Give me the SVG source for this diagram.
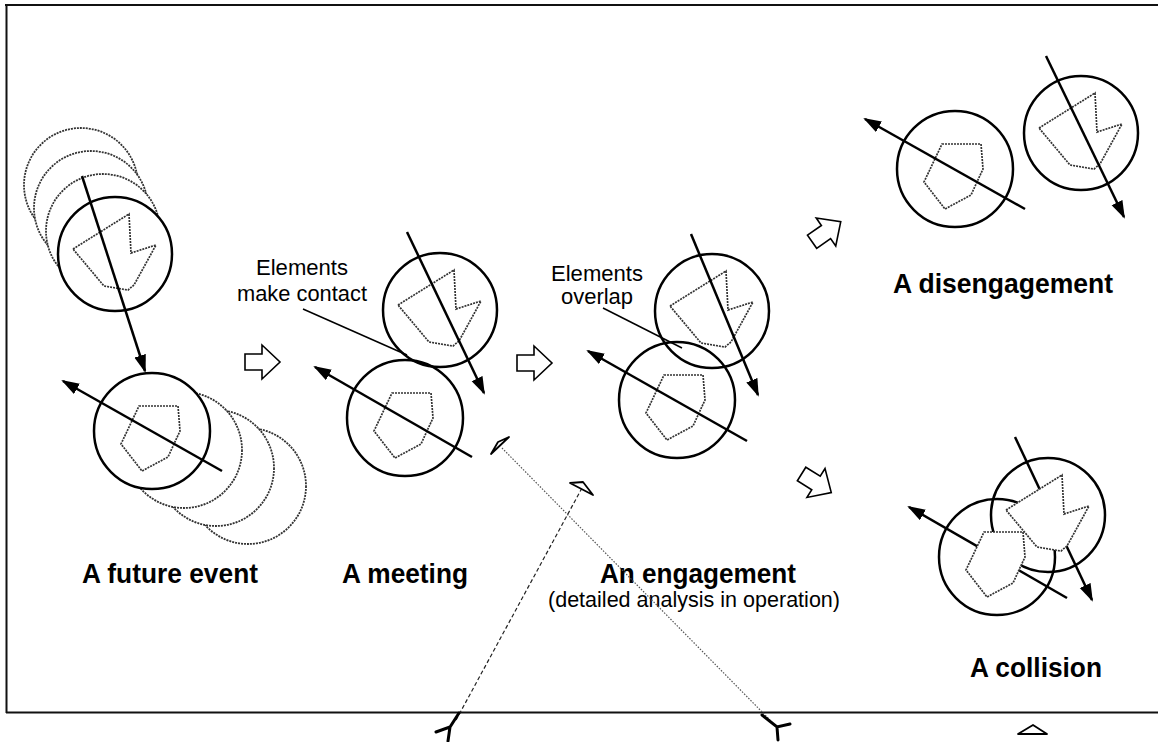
<svg xmlns="http://www.w3.org/2000/svg" xmlns:xlink="http://www.w3.org/1999/xlink" width="1158" height="742" viewBox="0 0 1158 742">
<style>
.frame{stroke:#111;stroke-width:2;fill:none}
.solid{fill:none;stroke:#000;stroke-width:2.5}
.solidw{fill:#fff;stroke:#000;stroke-width:2.5}
.ghost{fill:#fff;stroke:#333;stroke-width:1.8;stroke-dasharray:2 1}
.shape{fill:none;stroke:#333;stroke-width:1.7;stroke-dasharray:2 1}
.shapew{fill:#fff;stroke:#333;stroke-width:1.7;stroke-dasharray:2 1}
.arr{fill:none;stroke:#000;stroke-width:2.5;marker-end:url(#ah)}
.lead{fill:none;stroke:#000;stroke-width:1.5}
.blk{fill:#fff;stroke:#000;stroke-width:1.6}
.title{font-family:"Liberation Sans",Arial,sans-serif;font-weight:bold;font-size:27px;text-anchor:middle;fill:#000}
.lbl{font-family:"Liberation Sans",Arial,sans-serif;font-size:22px;text-anchor:middle;fill:#000}
.dotl{fill:none;stroke:#555;stroke-width:1.2;stroke-dasharray:1.5 1.5}
.dashl{fill:none;stroke:#222;stroke-width:1.2;stroke-dasharray:4 2.5}
.tri{fill:#fff;stroke:#000;stroke-width:1.8;stroke-linejoin:round}
.ymk{fill:none;stroke:#000;stroke-width:3;stroke-linecap:round}
</style>
<defs>
<marker id="ah" markerUnits="userSpaceOnUse" markerWidth="20" markerHeight="14" refX="16" refY="6" orient="auto">
<path d="M0,0 L18,6 L0,12 Z" fill="#000"/>
</marker>
<path id="ship" d="M-42,-5 L14,-40 L16,-1 L41,-9 L19,31 L13,36 L-11,32 Z"/>
<path id="pent" d="M-13,-25 L26,-25 L28,0 L16,26 L-10,40 L-31,13 Z"/>
<path id="block" d="M-17,-8 H0 V-17 L18,0 L0,17 V8 H-17 Z"/>
</defs>
<rect width="1158" height="742" fill="#fff"/>
<g id="frame">
<line class="frame" x1="5" y1="5" x2="1158" y2="5"/>
<line class="frame" x1="6.5" y1="5" x2="6.5" y2="713"/>
<line class="frame" x1="6" y1="712.5" x2="1158" y2="712.5"/>
</g>
<g id="future-event">
<g id="future-top">
<circle class="ghost" cx="81" cy="185" r="57"/>
<circle class="ghost" cx="91" cy="208" r="57"/>
<circle class="ghost" cx="103" cy="231" r="57"/>
<circle class="solidw" cx="115" cy="254" r="57"/>
<use href="#ship" class="shape" transform="translate(115,254)"/>
<line class="arr" x1="82" y1="176" x2="145" y2="371"/>
</g>
<g id="future-bottom">
<circle class="ghost" cx="248" cy="486" r="58"/>
<circle class="ghost" cx="216" cy="468" r="58"/>
<circle class="ghost" cx="184" cy="450" r="58"/>
<circle class="solidw" cx="152" cy="431" r="58"/>
<use href="#pent" class="shape" transform="translate(152,431)"/>
<line class="arr" x1="222" y1="471" x2="63" y2="381"/>
</g>
<text class="title" x="170" y="583" textLength="176" lengthAdjust="spacingAndGlyphs">A future event</text>
</g>
<g id="meeting">
<circle class="solid" cx="440" cy="310" r="57"/>
<use href="#ship" class="shape" transform="translate(440,310)"/>
<circle class="solid" cx="405" cy="418" r="58"/>
<use href="#pent" class="shape" transform="translate(405,418)"/>
<line class="arr" x1="407" y1="232" x2="484" y2="393"/>
<line class="arr" x1="472" y1="457" x2="315" y2="367"/>
<text class="lbl" x="302" y="275" textLength="92" lengthAdjust="spacingAndGlyphs">Elements</text>
<text class="lbl" x="302" y="301" textLength="130" lengthAdjust="spacingAndGlyphs">make contact</text>
<line class="lead" x1="303" y1="309" x2="407" y2="355"/>
<text class="title" x="405" y="583" textLength="126" lengthAdjust="spacingAndGlyphs">A meeting</text>
</g>
<g id="engagement">
<circle class="solid" cx="712" cy="311" r="57"/>
<use href="#ship" class="shape" transform="translate(712,311)"/>
<circle class="solid" cx="677" cy="400" r="58"/>
<use href="#pent" class="shape" transform="translate(677,400)"/>
<line class="arr" x1="691" y1="234" x2="758" y2="395"/>
<line class="arr" x1="747" y1="441" x2="588" y2="351"/>
<text class="lbl" x="597" y="281" textLength="92" lengthAdjust="spacingAndGlyphs">Elements</text>
<text class="lbl" x="597" y="304">overlap</text>
<line class="lead" x1="603" y1="308" x2="682" y2="348"/>
<text class="title" x="698" y="583" textLength="196" lengthAdjust="spacingAndGlyphs">An engagement</text>
<text class="lbl" x="694" y="607" textLength="292" lengthAdjust="spacingAndGlyphs">(detailed analysis in operation)</text>
</g>
<g id="disengagement">
<circle class="solid" cx="955" cy="169" r="58"/>
<use href="#pent" class="shape" transform="translate(955,169)"/>
<circle class="solid" cx="1081" cy="133" r="57"/>
<use href="#ship" class="shape" transform="translate(1081,133)"/>
<line class="arr" x1="1025" y1="209" x2="865" y2="119"/>
<line class="arr" x1="1046" y1="56" x2="1124" y2="217"/>
<text class="title" x="1003" y="293" textLength="220" lengthAdjust="spacingAndGlyphs">A disengagement</text>
</g>
<g id="collision">
<circle class="solid" cx="1048" cy="515" r="57"/>
<circle class="solid" cx="997" cy="557" r="58"/>
<line class="arr" x1="1015" y1="437" x2="1092" y2="600"/>
<line class="arr" x1="1067" y1="598" x2="909" y2="507"/>
<use href="#ship" class="shapew" transform="translate(1048,515)"/>
<use href="#pent" class="shapew" transform="translate(997,557)"/>
<text class="title" x="1036" y="677" textLength="132" lengthAdjust="spacingAndGlyphs">A collision</text>
</g>
<g id="connectors">
<use href="#block" class="blk" transform="translate(262,362)"/>
<use href="#block" class="blk" transform="translate(534,363)"/>
<use href="#block" class="blk" transform="translate(826,232) rotate(-35)"/>
<use href="#block" class="blk" transform="translate(816,483) rotate(32)"/>
<line class="dotl" x1="502" y1="448" x2="770" y2="720"/>
<polygon class="tri" points="491,454 498,442 509,437"/>
<path class="ymk" d="M762,715 L777,727 L790,724 M777,727 L778,740"/>
<line class="dashl" x1="582" y1="488" x2="455" y2="722"/>
<polygon class="tri" points="570,483 583,482 593,495"/>
<path class="ymk" d="M459,713 L450,727 L436,732 M450,727 L448,741"/>
<polygon class="tri" points="1033,725 1018,734 1047,734"/>
</g>
</svg>
